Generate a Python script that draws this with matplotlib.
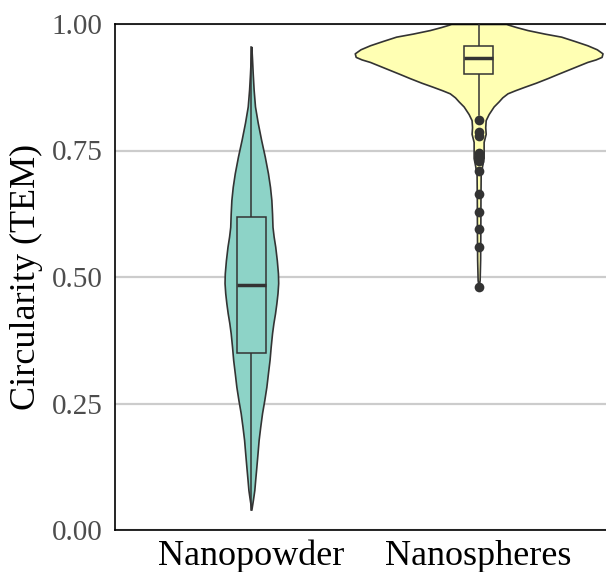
import matplotlib
matplotlib.use("Agg")
import matplotlib.pyplot as plt
from matplotlib.patches import Rectangle

plt.rcParams["font.family"] = ["Liberation Serif", "DejaVu Serif"]

groups = ["Nanopowder", "Nanospheres"]
fills = ["#8DD3C7", "#FFFFB3"]
edge = "#333333"

# violin outlines: circularity level -> half width (x units)
powder_y = [0.955, 0.930, 0.902, 0.870, 0.837, 0.805, 0.771, 0.738, 0.705,
            0.678, 0.652, 0.625, 0.599, 0.580, 0.560, 0.533, 0.507, 0.488,
            0.468, 0.448, 0.428, 0.409, 0.389, 0.362, 0.336, 0.310, 0.283,
            0.257, 0.231, 0.204, 0.178, 0.151, 0.125, 0.100, 0.079, 0.060,
            0.040]
powder_hw = [0.0, 0.003, 0.006, 0.010, 0.016, 0.028, 0.043, 0.059, 0.073,
             0.082, 0.088, 0.091, 0.093, 0.098, 0.105, 0.112, 0.117, 0.118,
             0.115, 0.110, 0.104, 0.097, 0.091, 0.085, 0.080, 0.073, 0.066,
             0.057, 0.047, 0.039, 0.032, 0.027, 0.022, 0.017, 0.013, 0.007,
             0.0]

spheres_y = [1.000, 0.994, 0.988, 0.981, 0.975, 0.966, 0.958, 0.950, 0.942,
             0.935, 0.930, 0.925, 0.917, 0.909, 0.901, 0.893, 0.884, 0.876,
             0.869, 0.863, 0.855, 0.847, 0.837, 0.822, 0.810, 0.796, 0.783,
             0.767, 0.751, 0.735, 0.719, 0.702, 0.652, 0.593, 0.534, 0.494,
             0.480]
spheres_hw = [0.121, 0.165, 0.215, 0.290, 0.363, 0.425, 0.478, 0.520, 0.545,
              0.541, 0.515, 0.478, 0.434, 0.390, 0.346, 0.303, 0.252, 0.202,
              0.160, 0.127, 0.104, 0.088, 0.066, 0.044, 0.031, 0.029, 0.031,
              0.022, 0.022, 0.022, 0.015, 0.009, 0.008, 0.0075, 0.0066,
              0.0044, 0.0]

# box stats: lower whisker, Q1, median, Q3, upper whisker
powder_box = [0.040, 0.349, 0.484, 0.619, 0.955]
spheres_box = [0.820, 0.901, 0.932, 0.957, 1.000]

powder_out = []
spheres_out = [0.810, 0.787, 0.778, 0.745, 0.738, 0.730, 0.709,
               0.665, 0.629, 0.594, 0.559, 0.481]

profiles = [(powder_y, powder_hw), (spheres_y, spheres_hw)]
boxes = [powder_box, spheres_box]
outliers = [powder_out, spheres_out]

W, H = 606, 572
fig = plt.figure(figsize=(W / 100, H / 100), dpi=100)
ax = fig.add_axes([115 / W, 42 / H, 500 / W, 506 / H])

box_w = 0.13
for i, (ys, hws) in enumerate(profiles):
    pos = i + 1
    left = [pos - h for h in hws]
    right = [pos + h for h in hws]
    ax.fill_betweenx(ys, left, right, facecolor=fills[i], edgecolor=edge,
                     linewidth=1.2, zorder=2)
    lo, q1, med, q3, hi = boxes[i]
    ax.plot([pos, pos], [lo, q1], color=edge, lw=1.1, zorder=3)
    ax.plot([pos, pos], [q3, hi], color=edge, lw=1.1, zorder=3)
    ax.add_patch(Rectangle((pos - box_w / 2, q1), box_w, q3 - q1,
                           facecolor=fills[i], edgecolor=edge, lw=1.1, zorder=3))
    ax.plot([pos - box_w / 2, pos + box_w / 2], [med, med], color=edge,
            lw=2.5, solid_capstyle="butt", zorder=4)
    if outliers[i]:
        ax.plot([pos] * len(outliers[i]), outliers[i], "o", color=edge,
                markersize=7, markeredgewidth=0, zorder=5)

ax.set_xlim(0.4, 2.6)
ax.set_ylim(0, 1)
ax.set_xticks([1, 2])
ax.set_xticklabels(groups, fontsize=26, color="black")
ax.set_yticks([0, 0.25, 0.5, 0.75, 1.0])
ax.set_yticklabels(["0.00", "0.25", "0.50", "0.75", "1.00"], fontsize=21,
                   color="#4D4D4D")
ax.tick_params(axis="both", length=0)
ax.tick_params(axis="y", pad=9)
ax.tick_params(axis="x", pad=7)
ax.set_ylabel("Circularity (TEM)", fontsize=26, labelpad=6)

ax.yaxis.grid(True, color="#CCCCCC", linewidth=1.6, zorder=0)
ax.set_axisbelow(True)
for s in ax.spines.values():
    s.set_color("black")
    s.set_linewidth(1.2)

fig.savefig("out.png", dpi=100)
